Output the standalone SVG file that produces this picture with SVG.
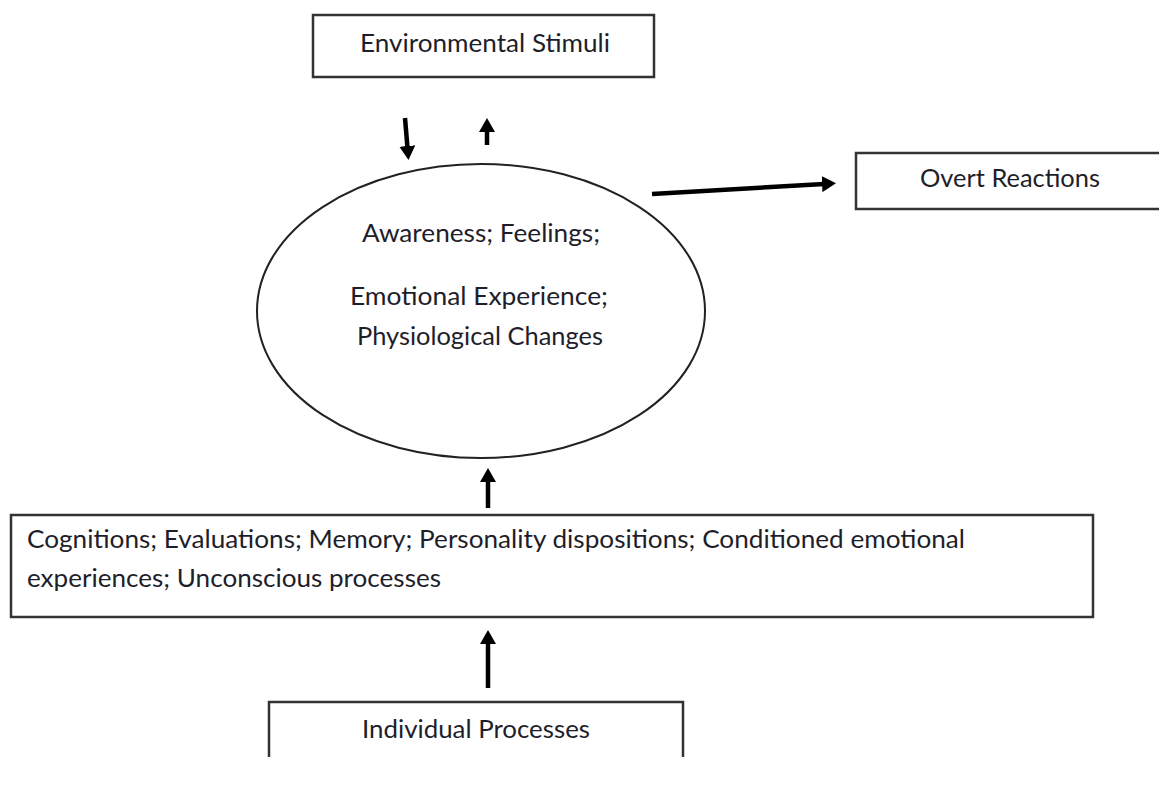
<svg xmlns="http://www.w3.org/2000/svg" width="1159" height="799" viewBox="0 0 1159 799">
  <style>
    .box { fill: #ffffff; stroke: #333333; stroke-width: 2.5; }
    .oval { fill: #ffffff; stroke: #222222; stroke-width: 2; }
    .label { font-family: "Lato", "Liberation Sans", sans-serif; font-size: 25px; fill: #1e1e2a; }
    .mid { text-anchor: middle; }
    .conn { stroke: #000000; stroke-width: 4.5; fill: none; stroke-linecap: butt; }
  </style>
  <defs>
    <marker id="head" markerUnits="userSpaceOnUse" viewBox="0 0 14 16" refX="2" refY="8" markerWidth="14" markerHeight="16" orient="auto">
      <path d="M0,0 L14,8 L0,16 Z" fill="#000000"/>
    </marker>
  </defs>

  <g id="environmental-stimuli">
    <rect class="box" x="313" y="15" width="341" height="62"/>
    <text class="label" x="360" y="52" textLength="250" lengthAdjust="spacingAndGlyphs">Environmental Stimuli</text>
  </g>

  <g id="overt-reactions">
    <rect class="box" x="856" y="153" width="320" height="56"/>
    <text class="label" x="920" y="187" textLength="180" lengthAdjust="spacingAndGlyphs">Overt Reactions</text>
  </g>

  <g id="emotion-core">
    <ellipse class="oval" cx="481" cy="311" rx="224" ry="147"/>
    <text class="label mid" x="481" y="242" textLength="238" lengthAdjust="spacingAndGlyphs">Awareness; Feelings;</text>
    <text class="label mid" x="479" y="305" textLength="258" lengthAdjust="spacingAndGlyphs">Emotional Experience;</text>
    <text class="label mid" x="480" y="345" textLength="246" lengthAdjust="spacingAndGlyphs">Physiological Changes</text>
  </g>

  <g id="mediating-processes">
    <rect class="box" x="11" y="515" width="1082" height="102"/>
    <text class="label" x="27" y="548" textLength="938" lengthAdjust="spacingAndGlyphs">Cognitions; Evaluations; Memory; Personality dispositions; Conditioned emotional</text>
    <text class="label" x="27" y="587" textLength="414" lengthAdjust="spacingAndGlyphs">experiences; Unconscious processes</text>
  </g>

  <g id="individual-processes">
    <path d="M269,757 V702 H683 V757" fill="none" stroke="#333333" stroke-width="2.5"/>
    <text class="label" x="362" y="738" textLength="228" lengthAdjust="spacingAndGlyphs">Individual Processes</text>
  </g>

  <g id="connectors">
    <line class="conn" x1="405" y1="118" x2="407.5" y2="148" marker-end="url(#head)"/>
    <line class="conn" x1="487" y1="145" x2="487" y2="130" marker-end="url(#head)"/>
    <line class="conn" x1="652" y1="194" x2="824" y2="184" marker-end="url(#head)"/>
    <line class="conn" x1="488" y1="508" x2="488" y2="480" marker-end="url(#head)"/>
    <line class="conn" x1="488" y1="688" x2="488" y2="642" marker-end="url(#head)"/>
  </g>
</svg>
